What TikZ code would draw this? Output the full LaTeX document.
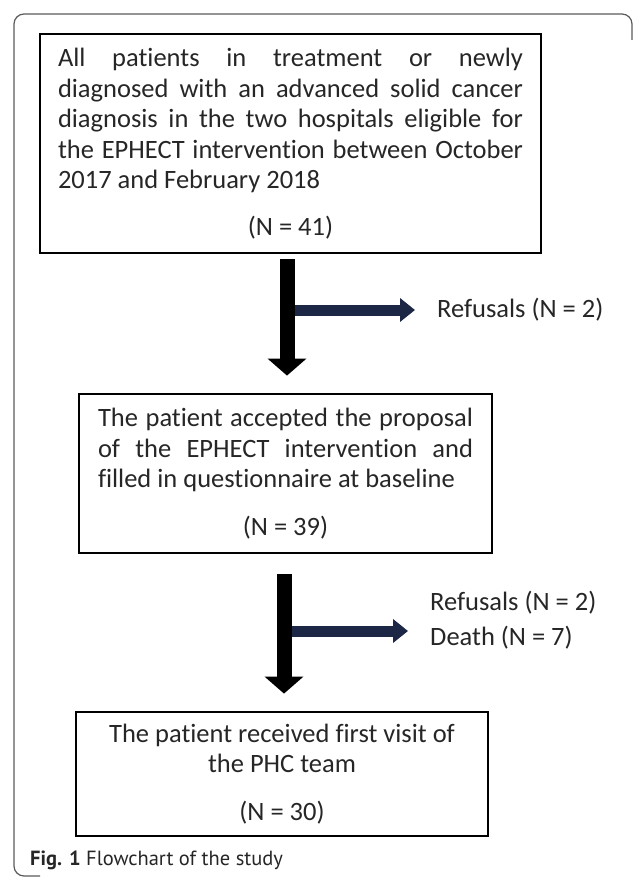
\documentclass[tikz,border=0pt]{standalone}
\usepackage{fontspec}
\setmainfont{Carlito}[Ligatures=NoCommon]
\newfontfamily\capfont{PT Sans}
\usepackage{tikz}
\usetikzlibrary{arrows.meta, positioning, calc}
\definecolor{inkgray}{HTML}{262626}
\definecolor{framegray}{HTML}{5A5A5A}
\definecolor{navy}{HTML}{1B2744}
\tikzset{
  flowbox/.style={
    rectangle, draw=black, line width=2.8pt,
    inner xsep=18pt, inner ysep=0pt,
    text=inkgray, font=\fontsize{26.5}{30.5}\selectfont\setlength{\parindent}{0pt},
  },
  bigarrow/.style={-{Triangle[width=38pt,length=17pt]}, line width=15pt, color=black},
  sidearrow/.style={-{Triangle[width=23pt,length=15pt]}, line width=11pt, color=navy},
  outcome/.style={anchor=west, inner sep=0pt, text=inkgray, font=\fontsize{26.5}{30}\selectfont},
  caption/.style={anchor=west, inner sep=0pt, text=inkgray, font=\capfont\fontsize{20.5}{24}\selectfont},
}

\begin{document}
\begin{tikzpicture}[x=1pt, y=-1pt]
  \useasboundingbox (0,0) rectangle (633,877);

  % outer frame
  \draw[framegray, line width=1.2pt, rounded corners=10pt] (632,40) -- (632,14) -- (14,14) -- (14,876) -- (40,876);

  \node[flowbox, align=justify, text width=465pt, minimum width=501pt, minimum height=219pt] (all) at (290.5,143.5)
    {All patients in treatment or newly\linebreak diagnosed with an advanced solid cancer\linebreak diagnosis in the two hospitals eligible for\linebreak the EPHECT intervention between October\linebreak 2017 and February 2018\par\vspace{16pt}\centering (N = 41)\par};
  \node[flowbox, align=justify, text width=375pt, minimum width=413pt, minimum height=159pt] (accepted) at (285.5,473.5)
    {The patient accepted the proposal\linebreak of the EPHECT intervention and\linebreak filled in questionnaire at baseline\par\vspace{17pt}\centering (N = 39)\par};
  \node[flowbox, align=flush center, text width=376pt, minimum width=412pt, minimum height=124pt] (visit) at (282,774)
    {The patient received first visit of\\the PHC team\\[17pt](N = 30)};

  \coordinate (fork1) at (287,310);
  \coordinate (fork2) at (284,631);

  \node[outcome] (refusal1) at (437,310) {Refusals (N = 2)};
  \node[outcome] (refusal2) at (430,603) {Refusals (N = 2)};
  \node[outcome] (death) at (430,638) {Death (N = 7)};

  \draw[sidearrow, shorten >=22pt] (fork1) -- (fork1 -| refusal1.west);
  \draw[bigarrow, shorten <=5pt, shorten >=17pt] (all.south -| fork1) -- (accepted.north -| fork1);

  \draw[sidearrow, shorten >=22pt] (fork2) -- (fork2 -| death.west);
  \draw[bigarrow, shorten <=20pt, shorten >=17pt] (accepted.south -| fork2) -- (visit.north -| fork2);

  \node[caption] (cap) at (30,860) {\textbf{Fig. 1} Flowchart of the study};
\end{tikzpicture}
\end{document}
